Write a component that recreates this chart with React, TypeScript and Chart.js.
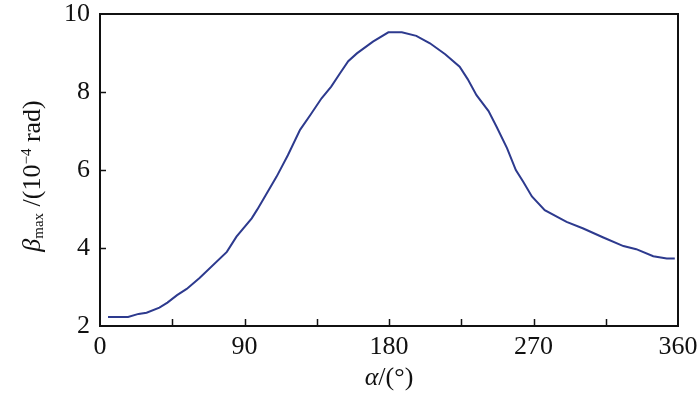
import React, { useEffect, useRef } from "react";
import { Chart, registerables } from "chart.js";

Chart.register(...registerables);

const alphaValues = [5, 17.5, 24, 29, 37, 42, 48, 54, 62, 79, 85, 94.5, 98, 102, 110, 117, 124.6, 131, 138, 144, 149.5, 154.6, 160, 170, 179.6, 188, 197, 205.5, 215, 224, 229, 234.5, 242, 247, 253.5, 259, 263.6, 269, 277, 290.6, 301, 313.5, 326, 334, 344.6, 353, 358];
const betaValues = [2.23, 2.23, 2.31, 2.34, 2.47, 2.6, 2.79, 2.95, 3.23, 3.9, 4.29, 4.76, 4.99, 5.27, 5.83, 6.38, 7.03, 7.41, 7.84, 8.14, 8.48, 8.79, 8.99, 9.29, 9.53, 9.53, 9.44, 9.25, 8.97, 8.65, 8.33, 7.92, 7.51, 7.11, 6.56, 6.0, 5.7, 5.32, 4.97, 4.67, 4.5, 4.27, 4.05, 3.97, 3.79, 3.73, 3.73];
const xLabeledTicks = [0, 90, 180, 270, 360];
const yTicks = [2, 4, 6, 8, 10];

const FONT = '"Liberation Serif", "Times New Roman", serif';

const framePlugin = {
  id: "frame",
  afterDraw(chart: any) {
    const { ctx, chartArea } = chart;
    const { left, right, top, bottom } = chartArea;
    const xs = chart.scales.x;
    const ys = chart.scales.y;
    ctx.save();
    ctx.strokeStyle = "#111";
    ctx.lineWidth = 2;
    ctx.strokeRect(left, top, right - left, bottom - top);
    ctx.lineWidth = 1.5;
    for (let v = 45; v < 360; v += 45) {
      const px = Math.round(xs.getPixelForValue(v)) + 0.5;
      ctx.beginPath();
      ctx.moveTo(px, bottom);
      ctx.lineTo(px, bottom - 7);
      ctx.stroke();
    }
    for (const v of yTicks) {
      if (v === 2 || v === 10) continue;
      const py = Math.round(ys.getPixelForValue(v)) + 0.5;
      ctx.beginPath();
      ctx.moveTo(left, py);
      ctx.lineTo(left + 6, py);
      ctx.stroke();
    }
    // x axis title
    ctx.fillStyle = "#111";
    ctx.textBaseline = "alphabetic";
    ctx.textAlign = "left";
    const cx = (left + right) / 2;
    const xy = 385;
    ctx.font = `italic 26px ${FONT}`;
    const wa = ctx.measureText("α").width;
    ctx.font = `26px ${FONT}`;
    const wr = ctx.measureText("/(°)").width;
    const sx = cx - (wa + wr) / 2;
    ctx.font = `italic 26px ${FONT}`;
    ctx.fillText("α", sx, xy);
    ctx.font = `26px ${FONT}`;
    ctx.fillText("/(°)", sx + wa, xy);

    // y axis title (rotated)
    const cy = 176;
    ctx.translate(40, cy);
    ctx.rotate(-Math.PI / 2);
    const parts = [
      { t: "β", f: `italic 26px ${FONT}`, dy: 0 },
      { t: "max", f: `15px ${FONT}`, dy: 3 },
      { t: " /(10", f: `26px ${FONT}`, dy: 0 },
      { t: "−4", f: `15px ${FONT}`, dy: -9 },
      { t: " rad)", f: `26px ${FONT}`, dy: 0 },
    ];
    let total = 0;
    const widths: number[] = [];
    for (const p of parts) {
      ctx.font = p.f;
      const w = ctx.measureText(p.t).width;
      widths.push(w);
      total += w;
    }
    let px = -total / 2;
    parts.forEach((p, i) => {
      ctx.font = p.f;
      ctx.fillText(p.t, px, p.dy);
      px += widths[i];
    });
    ctx.restore();
  },
};

export default function App() {
  const ref = useRef<HTMLCanvasElement | null>(null);
  useEffect(() => {
    document.body.style.margin = "0";
    const canvas = ref.current;
    if (!canvas) return;
    const data = alphaValues.map((a, i) => ({ x: a, y: betaValues[i] }));
    const chart = new Chart(canvas, {
      type: "line",
      data: {
        datasets: [
          {
            data,
            borderColor: "#2d3a8e",
            borderWidth: 2,
            pointRadius: 0,
            tension: 0,
            fill: false,
          },
        ],
      },
      options: {
        animation: false,
        responsive: false,
        devicePixelRatio: 1,
        layout: { padding: { left: 0, right: 22, top: 14, bottom: 0 } },
        plugins: { legend: { display: false }, tooltip: { enabled: false } },
        scales: {
          x: {
            type: "linear",
            min: 0,
            max: 360,
            grid: { display: false, drawTicks: false },
            border: { display: false },
            afterBuildTicks: (scale: any) => {
              scale.ticks = xLabeledTicks.map((v) => ({ value: v }));
            },
            afterFit: (scale: any) => {
              scale.height = 67;
              scale.paddingLeft = 0;
              scale.paddingRight = 0;
            },
            ticks: {
              color: "#111",
              padding: 6,
              maxRotation: 0,
              autoSkip: false,
              font: { family: FONT, size: 26 },
            },
          },
          y: {
            min: 2,
            max: 10,
            grid: { display: false, drawTicks: false },
            border: { display: false },
            afterBuildTicks: (scale: any) => {
              scale.ticks = yTicks.map((v) => ({ value: v }));
            },
            afterFit: (scale: any) => {
              scale.width = 100;
              scale.paddingTop = 0;
              scale.paddingBottom = 0;
            },
            ticks: {
              color: "#111",
              padding: 10,
              autoSkip: false,
              font: { family: FONT, size: 26 },
            },
          },
        },
      },
      plugins: [framePlugin],
    } as any);
    return () => chart.destroy();
  }, []);
  return <canvas ref={ref} width={700} height={393} style={{ display: "block" }} />;
}
